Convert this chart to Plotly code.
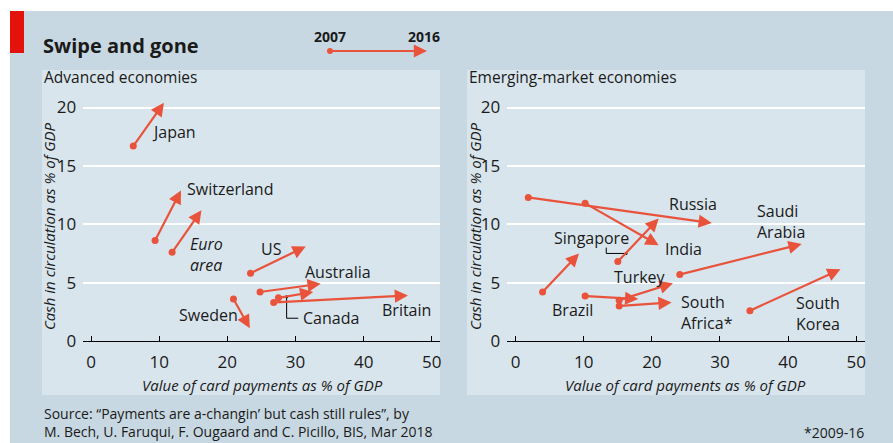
import plotly.graph_objects as go

W, H = 893, 443

# Advanced economies, 2007 -> 2016
adv_names = ["Japan", "Switzerland", "Euro area", "US", "Australia", "Canada", "Britain", "Sweden"]
adv_card_07 = [6.2, 9.4, 11.9, 23.4, 24.8, 27.5, 26.8, 20.9]
adv_cash_07 = [16.7, 8.6, 7.6, 5.8, 4.2, 3.7, 3.3, 3.6]
adv_card_16 = [10.7, 13.2, 16.2, 31.5, 33.7, 32.6, 46.5, 23.3]
adv_cash_16 = [20.4, 12.9, 11.2, 8.1, 4.9, 4.2, 3.9, 1.1]

# Emerging-market economies, 2007 -> 2016 (South Africa 2009-16)
em_names = ["Russia", "India", "Singapore", "Mexico", "Turkey", "Brazil", "South Africa", "Saudi Arabia", "South Korea"]
em_card_07 = [1.85, 10.2, 15.0, 3.95, 15.2, 10.2, 15.2, 24.1, 34.4]
em_cash_07 = [12.3, 11.8, 6.8, 4.2, 3.5, 3.85, 3.0, 5.7, 2.6]
em_card_16 = [28.8, 21.0, 21.0, 9.3, 23.1, 18.0, 22.9, 42.0, 47.7]
em_cash_16 = [10.1, 8.2, 10.5, 7.5, 4.95, 3.6, 3.3, 8.3, 6.15]

x_ticks = [0, 10, 20, 30, 40, 50]
y_ticks = [0, 5, 10, 15, 20]

# label text and anchor (left edge, vertical middle) in data units
adv_labels = [("Japan", 8.6, 17.9, False), ("Switzerland", 13.8, 13.0, False),
              ("Euro<br>area", 14.3, 7.4, True), ("US", 24.7, 7.9, False),
              ("Australia", 31.1, 5.95, False), ("Canada", 30.8, 1.95, False),
              ("Britain", 42.4, 2.65, False), ("Sweden", 12.6, 2.2, False)]
em_labels = [("Russia", 22.2, 11.75), ("India", 21.6, 7.9), ("Singapore", 5.3, 8.8),
             ("Mexico", -1.5, 6.3), ("Turkey", 14.1, 5.5), ("Brazil", 5.0, 2.65),
             ("South<br>Africa*", 24.0, 2.4), ("Saudi<br>Arabia", 35.1, 10.25),
             ("South<br>Korea", 40.8, 2.35)]

RED = "#e9533b"
OUTER = "#c8d8e2"
PANEL = "#d9e5ed"
FONT = "Open Sans"
TXT = "#1a1a1a"


def px(x):
    return x / W


def py(y):
    return 1 - y / H


fig = go.Figure()

shapes = [
    dict(type="rect", xref="paper", yref="paper", x0=px(10), x1=1, y0=0, y1=py(11),
         fillcolor=OUTER, line_width=0, layer="below"),
    dict(type="rect", xref="paper", yref="paper", x0=px(10), x1=px(24), y0=py(53), y1=py(11),
         fillcolor="#e3120b", line_width=0, layer="below"),
    dict(type="rect", xref="paper", yref="paper", x0=px(42), x1=px(440), y0=py(395), y1=py(70),
         fillcolor=PANEL, line_width=0, layer="below"),
    dict(type="rect", xref="paper", yref="paper", x0=px(467), x1=px(865), y0=py(395), y1=py(70),
         fillcolor=PANEL, line_width=0, layer="below"),
    dict(type="circle", xref="paper", yref="paper", x0=px(327), x1=px(333), y0=py(54), y1=py(48),
         fillcolor=RED, line_width=0),
]

annotations = []

panels = [
    ("x", "y", adv_card_07, adv_cash_07, adv_card_16, adv_cash_16),
    ("x2", "y2", em_card_07, em_cash_07, em_card_16, em_cash_16),
]
for xr, yr, x0s, y0s, x1s, y1s in panels:
    fig.add_trace(go.Scatter(x=x0s, y=y0s, xaxis=xr, yaxis=yr, mode="markers",
                             marker=dict(color=RED, size=7), hoverinfo="skip",
                             cliponaxis=False))
    for a, b, c, d in zip(x0s, y0s, x1s, y1s):
        annotations.append(dict(x=c, y=d, ax=a, ay=b, xref=xr, yref=yr, axref=xr, ayref=yr,
                                text="", showarrow=True, arrowhead=2, arrowsize=1.2,
                                arrowwidth=2.2, arrowcolor=RED, standoff=0, startstandoff=0))

for t, x, y, it in adv_labels:
    annotations.append(dict(x=x, y=y, xref="x", yref="y", text=f"<i>{t}</i>" if it else t,
                            showarrow=False, xanchor="left", yanchor="middle", align="left",
                            font=dict(size=16, color=TXT)))
for t, x, y in em_labels:
    annotations.append(dict(x=x, y=y, xref="x2", yref="y2", text=t,
                            showarrow=False, xanchor="left", yanchor="middle", align="left",
                            font=dict(size=16, color=TXT)))

# leader lines for Canada and Singapore
fig.add_trace(go.Scatter(x=[28.7, 28.7, 30.4], y=[3.8, 1.95, 1.95], xaxis="x", yaxis="y",
                         mode="lines", line=dict(color="black", width=1), hoverinfo="skip"))
fig.add_trace(go.Scatter(x=[28.7], y=[3.8], xaxis="x", yaxis="y", mode="markers",
                         marker=dict(color="black", size=3), hoverinfo="skip"))
fig.add_trace(go.Scatter(x=[13.3, 13.3, 16.2], y=[8.0, 7.5, 7.5], xaxis="x2", yaxis="y2",
                         mode="lines", line=dict(color="black", width=1), hoverinfo="skip"))
fig.add_trace(go.Scatter(x=[16.2], y=[7.5], xaxis="x2", yaxis="y2", mode="markers",
                         marker=dict(color="black", size=3), hoverinfo="skip"))

# header and panel text
annotations += [
    dict(x=px(41), y=py(45), xref="paper", yref="paper", text="<b>Swipe and gone</b>",
         showarrow=False, xanchor="left", yanchor="middle", font=dict(size=20, color=TXT)),
    dict(x=px(330), y=py(37), xref="paper", yref="paper", text="<b>2007</b>",
         showarrow=False, xanchor="center", yanchor="middle", font=dict(size=14, color=TXT)),
    dict(x=px(424), y=py(37), xref="paper", yref="paper", text="<b>2016</b>",
         showarrow=False, xanchor="center", yanchor="middle", font=dict(size=14, color=TXT)),
    dict(x=px(427), y=py(51), xref="paper", yref="paper", ax=-96, ay=0, text="",
         showarrow=True, arrowhead=2, arrowsize=1.2, arrowwidth=2.2, arrowcolor=RED),
    dict(x=px(42), y=py(77), xref="paper", yref="paper", text="Advanced economies",
         showarrow=False, xanchor="left", yanchor="middle", font=dict(size=15.5, color=TXT)),
    dict(x=px(467), y=py(77), xref="paper", yref="paper", text="Emerging-market economies",
         showarrow=False, xanchor="left", yanchor="middle", font=dict(size=15.5, color=TXT)),
    dict(x=px(42), y=py(422), xref="paper", yref="paper",
         text="Source: “Payments are a-changin’ but cash still rules”, by<br>"
              "M. Bech, U. Faruqui, F. Ougaard and C. Picillo, BIS, Mar 2018",
         showarrow=False, xanchor="left", yanchor="middle", align="left",
         font=dict(size=14, color=TXT)),
    dict(x=px(866), y=py(432), xref="paper", yref="paper", text="*2009-16",
         showarrow=False, xanchor="right", yanchor="middle", font=dict(size=14, color=TXT)),
]
for cx in (49, 475):
    annotations.append(dict(x=px(cx), y=py(227), xref="paper", yref="paper",
                            text="<i>Cash in circulation as % of GDP</i>", textangle=-90,
                            showarrow=False, xanchor="center", yanchor="middle",
                            font=dict(size=15, color=TXT)))
for cx in (262, 685):
    annotations.append(dict(x=px(cx), y=py(385), xref="paper", yref="paper",
                            text="<i>Value of card payments as % of GDP</i>",
                            showarrow=False, xanchor="center", yanchor="middle",
                            font=dict(size=15, color=TXT)))

xax = dict(tickvals=x_ticks, ticks="inside", ticklen=5, tickcolor="black", showgrid=False,
           showline=True, linecolor="black", linewidth=1, zeroline=False, automargin=False,
           ticklabelstandoff=6, tickfont=dict(size=17, color=TXT), fixedrange=True)
yax = dict(range=[0, 21.5], tickvals=y_ticks, showgrid=True, gridcolor="white", gridwidth=1.6,
           zeroline=False, ticks="", ticklabelstandoff=6, tickfont=dict(size=17, color=TXT),
           domain=[py(341), py(90)], fixedrange=True, automargin=False)

fig.update_layout(
    width=W, height=H, margin=dict(l=0, r=0, t=0, b=0, autoexpand=False),
    paper_bgcolor="white", plot_bgcolor="rgba(0,0,0,0)",
    font=dict(family=FONT, color=TXT), showlegend=False,
    xaxis=dict(xax, domain=[px(83.3), px(440)], range=[-1.13, 51.2], anchor="y"),
    xaxis2=dict(xax, domain=[px(507.3), px(865)], range=[-1.23, 51.3], anchor="y2"),
    yaxis=dict(yax, anchor="x"),
    yaxis2=dict(yax, anchor="x2"),
    shapes=shapes, annotations=annotations,
)

# the page's default body margin would push the figure off the window
fig.write_html("out.html", config={"displayModeBar": False},
               post_script="document.body.style.margin='0';")
